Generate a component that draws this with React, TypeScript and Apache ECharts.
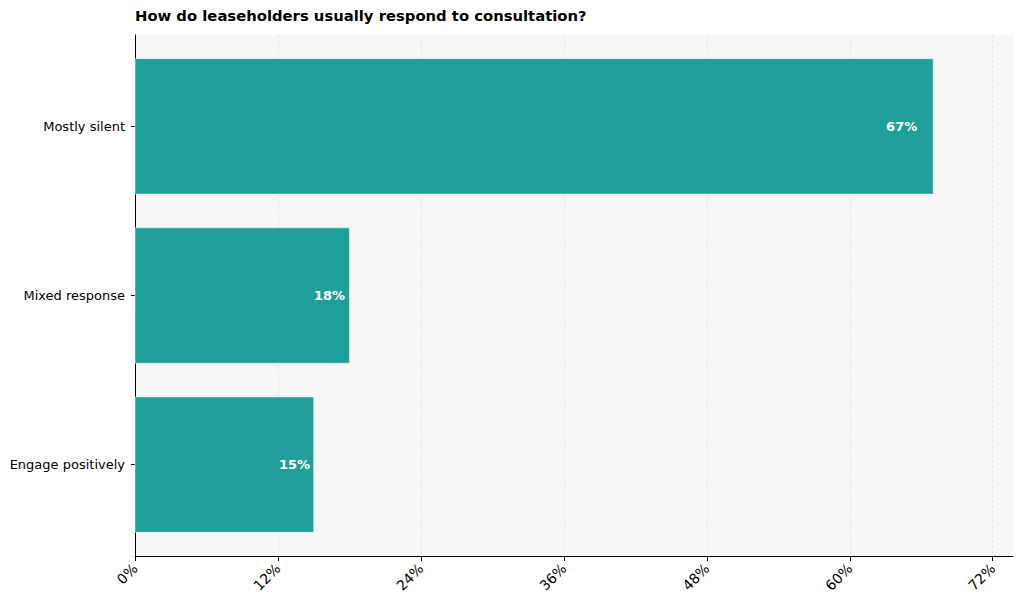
import React, { useEffect, useRef } from "react";
import * as echarts from "echarts";

const title = "How do leaseholders usually respond to consultation?";
const categories = ["Mostly silent", "Mixed response", "Engage positively"];
const values = [67, 18, 15];
const xTicks = [0, 12, 24, 36, 48, 60, 72];
const xMax = 73.7;

const FONT = "DejaVu Sans";
const BAR = "#1f9e9a";

export default function App() {
  const ref = useRef<HTMLDivElement>(null);
  useEffect(() => {
    document.body.style.margin = "0";
    const chart = echarts.init(ref.current!, null, { renderer: "svg" });
    chart.setOption({
      animation: false,
      backgroundColor: "#ffffff",
      title: {
        text: title,
        left: 130,
        top: 3,
        textStyle: { fontFamily: FONT, fontSize: 14.8, fontWeight: "bold", color: "#000" },
      },
      grid: {
        left: 135,
        right: 11,
        top: 35,
        bottom: 53,
        show: true,
        backgroundColor: "#f7f7f7",
        borderWidth: 0,
      },
      xAxis: {
        type: "value",
        min: 0,
        max: xMax,
        interval: 12,
        axisLine: { show: true, onZero: false, lineStyle: { color: "#000", width: 1 } },
        axisTick: { show: true, length: 5, customValues: xTicks, lineStyle: { color: "#000" } },
        axisLabel: {
          customValues: xTicks,
          rotate: 45,
          margin: 10,
          fontFamily: FONT,
          fontSize: 14,
          color: "#000",
          formatter: (v: number) => `${v}%`,
        },
        splitLine: {
          show: true,
          lineStyle: { color: "#e0e0e0", type: [3, 2], width: 0.8 },
        },
      },
      yAxis: {
        type: "value",
        min: -0.54,
        max: 2.54,
        inverse: true,
        axisLine: { show: true, onZero: false, lineStyle: { color: "#000", width: 1 } },
        axisTick: { show: true, length: 4, customValues: [0, 1, 2], lineStyle: { color: "#000" } },
        axisLabel: {
          customValues: [0, 1, 2],
          margin: 10,
          fontFamily: FONT,
          fontSize: 13,
          color: "#000",
          formatter: (v: number) => categories[Math.round(v)] ?? "",
        },
        splitLine: { show: false },
      },
      series: [
        {
          type: "custom",
          data: values.map((v, i) => [v, i]),
          encode: { x: 0, y: 1 },
          renderItem: (params: any, api: any) => {
            const v = api.value(0);
            const i = api.value(1);
            const p0 = api.coord([0, i - 0.4]);
            const p1 = api.coord([v, i + 0.4]);
            const lp = api.coord([v * 0.98, i]);
            const y0 = Math.min(p0[1], p1[1]);
            const h = Math.abs(p1[1] - p0[1]);
            return {
              type: "group",
              children: [
                {
                  type: "rect",
                  shape: { x: p0[0], y: y0, width: p1[0] - p0[0], height: h },
                  style: { fill: BAR, stroke: "rgba(255,255,255,0.6)", lineWidth: 0.8 },
                },
                {
                  type: "text",
                  x: lp[0],
                  y: lp[1],
                  style: {
                    text: `${v}%`,
                    fill: "#ffffff",
                    fontFamily: FONT,
                    fontSize: 13,
                    fontWeight: "bold",
                    align: "right",
                    verticalAlign: "middle",
                  },
                },
              ],
            };
          },
        },
      ],
    });
    return () => chart.dispose();
  }, []);
  return <div ref={ref} style={{ width: 1024, height: 609 }} />;
}
